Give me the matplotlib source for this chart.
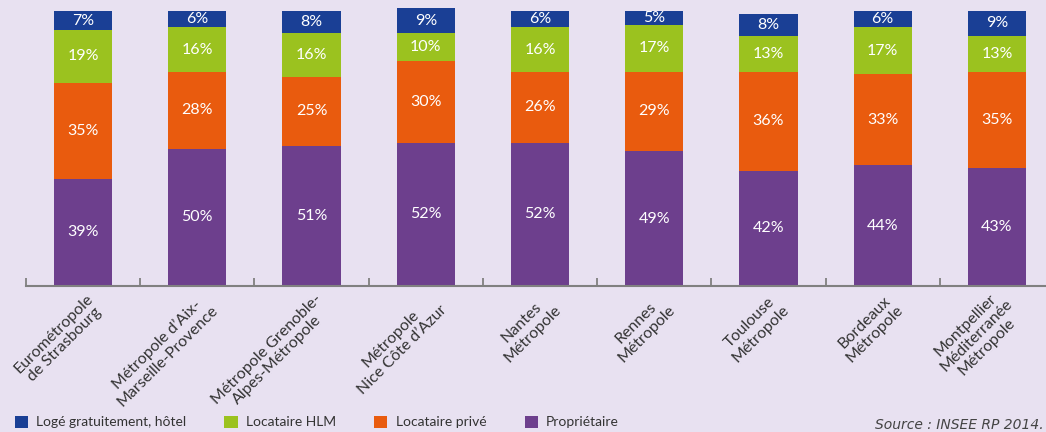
import numpy as np
import matplotlib
matplotlib.use("Agg")
import matplotlib.pyplot as plt
from matplotlib.patches import Patch
from matplotlib.transforms import ScaledTranslation

categories = [
    "Eurométropole\nde Strasbourg",
    "Métropole d’Aix-\nMarseille-Provence",
    "Métropole Grenoble-\nAlpes-Métropole",
    "Métropole\nNice Côte d’Azur",
    "Nantes\nMétropole",
    "Rennes\nMétropole",
    "Toulouse\nMétropole",
    "Bordeaux\nMétropole",
    "Montpellier\nMéditerranée\nMétropole",
]
proprietaire = [39, 50, 51, 52, 52, 49, 42, 44, 43]
locataire_prive = [35, 28, 25, 30, 26, 29, 36, 33, 35]
locataire_hlm = [19, 16, 16, 10, 16, 17, 13, 17, 13]
loge_gratuit = [7, 6, 8, 9, 6, 5, 8, 6, 9]

series_labels = ["Logé gratuitement, hôtel", "Locataire HLM", "Locataire privé", "Propriétaire"]
colors = {"gratuit": "#1a3f95", "hlm": "#9bc21f", "prive": "#e95b0e", "proprio": "#6d3f8d"}
bg = "#e8e1f1"

plt.rcParams["font.family"] = ["Lato", "DejaVu Sans"]

fig = plt.figure(figsize=(10.46, 4.32), dpi=100, facecolor=bg)
ax = fig.add_axes([26 / 1046, 146 / 432, 1 - 26 / 1046, 280.5 / 432])
ax.set_facecolor(bg)

x = np.arange(len(categories))
width = 0.51
stack = [
    (proprietaire, colors["proprio"]),
    (locataire_prive, colors["prive"]),
    (locataire_hlm, colors["hlm"]),
    (loge_gratuit, colors["gratuit"]),
]
bottom = np.zeros(len(categories))
for values, color in stack:
    values = np.array(values)
    ax.bar(x, values, width, bottom=bottom, color=color, zorder=2)
    for xi, b, v in zip(x, bottom, values):
        ax.text(xi, b + v / 2, f"{v}%", ha="center", va="center",
                color="white", fontsize=11.5, zorder=3)
    bottom += values

ax.set_xlim(-0.5, 8.43)
ax.set_ylim(0, 102)

for s in ["left", "right", "top"]:
    ax.spines[s].set_visible(False)
ax.spines["bottom"].set_color("#808080")
ax.spines["bottom"].set_linewidth(1.5)
ax.set_yticks([])
ax.set_xticks(x)
ax.set_xticklabels([])
ax.tick_params(axis="x", which="major", length=0)
ax.set_xticks(np.arange(len(categories)) - 0.5, minor=True)
ax.tick_params(axis="x", which="minor", direction="in", length=6,
               width=1.3, color="#808080")

# rotated category labels
offset = ScaledTranslation(13 / 100, -16 / 100, fig.dpi_scale_trans)
for xi, lab in zip(x, categories):
    ax.text(xi, 0, lab, transform=ax.get_xaxis_transform() + offset,
            rotation=45, rotation_mode="anchor", ha="right", va="center",
            multialignment="center", fontsize=11.5, color="#333333",
            linespacing=1.12)

handles = [
    Patch(facecolor=colors["gratuit"]),
    Patch(facecolor=colors["hlm"]),
    Patch(facecolor=colors["prive"]),
    Patch(facecolor=colors["proprio"]),
]
fig.legend(handles, series_labels, loc="lower left",
           bbox_to_anchor=(2 / 1046, -9 / 432), ncol=4, frameon=False,
           fontsize=10, handlelength=0.95, handleheight=0.95,
           handletextpad=0.6, columnspacing=2.75, labelcolor="#333333")

fig.text(1044 / 1046, 7 / 432, "Source : INSEE RP 2014.", ha="right",
         va="center", fontsize=10, style="italic", color="#444444",
         family="DejaVu Sans")

fig.savefig("out.png", dpi=100, facecolor=bg)
